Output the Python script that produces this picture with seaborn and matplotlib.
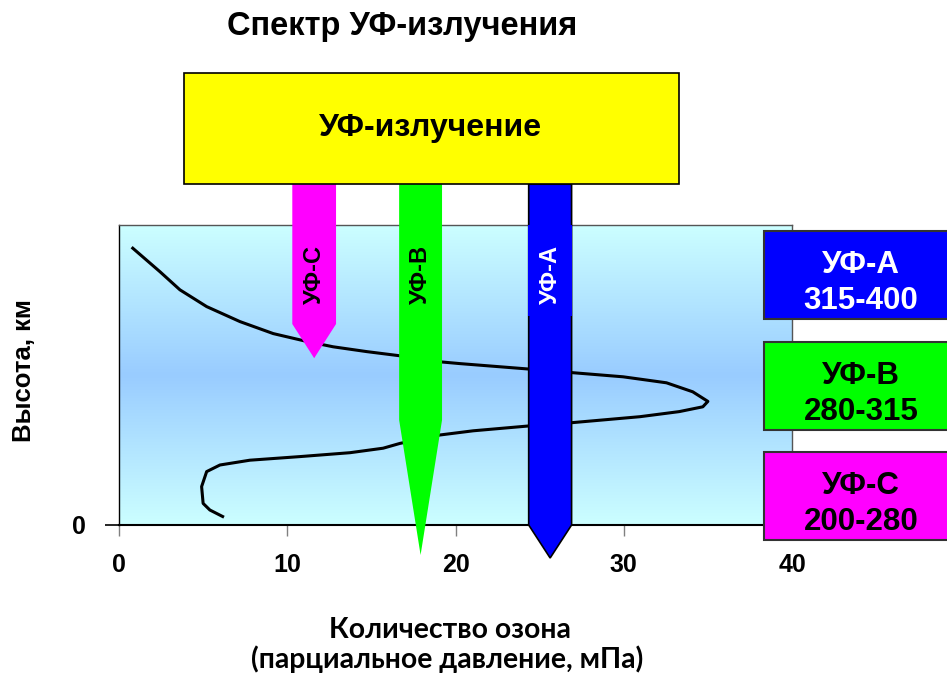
import numpy as np
import pandas as pd
import matplotlib
matplotlib.use("Agg")
import matplotlib.pyplot as plt
from matplotlib.colors import LinearSegmentedColormap
from matplotlib.patches import Polygon, Rectangle
import seaborn as sns

# Ozone partial pressure profile (mPa) against altitude (km), traced from top to bottom
ozone_mpa = [0.75, 2.44, 3.62, 5.21, 7.19, 9.17, 11.15, 12.73, 14.72, 16.7, 19.07,
             20.26, 24.32, 26.9, 29.96, 32.54, 34.1, 35.0, 34.7, 33.3, 30.96, 26.9,
             24.32, 21.05, 19.07, 16.7, 15.7, 13.73, 10.75, 7.78, 6.0, 5.21, 4.91,
             5.0, 5.4, 6.24]
altitude_km = [46.3, 42.2, 39.2, 36.4, 33.9, 31.9, 30.6, 29.7, 28.9, 28.2, 27.2,
               26.9, 26.0, 25.4, 24.7, 23.7, 22.2, 20.6, 19.7, 18.9, 18.05, 17.05,
               16.5, 15.7, 15.0, 13.6, 12.8, 12.05, 11.4, 10.8, 10.0, 8.9, 6.4,
               3.6, 2.5, 1.3]

x_ticks = [0, 10, 20, 30, 40]

# UV bands: label, wavelength range (nm), colour
band_names = ["УФ-А", "УФ-В", "УФ-С"]
band_ranges = ["315-400", "280-315", "200-280"]
band_colors = ["#0000FF", "#00FF00", "#FF00FF"]
band_text = ["white", "black", "black"]

sns.set_theme(style="white")
plt.rcParams["font.family"] = ["Liberation Sans", "DejaVu Sans"]
plt.rcParams["text.color"] = "black"
plt.rcParams["xtick.color"] = "black"
plt.rcParams["ytick.color"] = "black"

W, H = 947, 675
fig = plt.figure(figsize=(W / 100, H / 100), dpi=100)
ax = fig.add_axes([119 / W, 150 / H, 673 / W, 300 / H])


def fx(px):
    return px / W


def fy(py):
    return 1 - py / H


XMAX, YMAX = 40, 50
ax.set_xlim(0, XMAX)
ax.set_ylim(0, YMAX)

# vertical gradient background: pale cyan at the edges, sky blue in the middle
cmap = LinearSegmentedColormap.from_list("sky", ["#CCFFFF", "#99CCFF", "#CCFFFF"])
grad = np.linspace(0, 1, 256).reshape(-1, 1)
ax.imshow(grad, cmap=cmap, extent=[0, XMAX, 0, YMAX], aspect="auto",
          origin="lower", zorder=0)

df = pd.DataFrame({"ozone": ozone_mpa, "alt": altitude_km})
sns.lineplot(data=df, x="ozone", y="alt", sort=False, estimator=None,
             color="black", lw=2.2, ax=ax, zorder=3,
             solid_joinstyle="round", solid_capstyle="butt")

ax.set_xticks(x_ticks)
ax.set_xticklabels([str(t) for t in x_ticks], fontsize=18, fontweight="bold")
ax.set_yticks([0])
ax.set_yticklabels(["0"], fontsize=18, fontweight="bold")
ax.tick_params(axis="x", direction="out", length=8, width=1, color="#808080",
               pad=12, bottom=True)
ax.tick_params(axis="y", direction="out", length=10, width=1.2, color="black",
               pad=14, left=True)
ax.set_xlabel("")
ax.set_ylabel("")
for side, sp in ax.spines.items():
    sp.set_visible(True)
    sp.set_linewidth(1.0)
    sp.set_color("#555555")
ax.spines["bottom"].set_color("black")
ax.spines["bottom"].set_linewidth(1.5)
ax.spines["left"].set_color("black")

# downward-pointing arrows for the three bands (C, B, A)
top = 56.8
arrow_specs = [
    # (band index, left, right, shaft bottom, tip, edge)
    (2, 10.3, 12.9, 33.5, 27.8, "none"),
    (1, 16.65, 19.2, 17.5, -5.0, "none"),
    (0, 24.35, 26.9, 0.0, -5.5, "black"),
]
for idx, x0, x1, yb, ytip, ec in arrow_specs:
    xm = (x0 + x1) / 2
    poly = Polygon([(x0, top), (x1, top), (x1, yb), (xm, ytip), (x0, yb)],
                   closed=True, facecolor=band_colors[idx], edgecolor=ec,
                   lw=1.2, clip_on=False, zorder=5)
    ax.add_patch(poly)
    if ec != "none":
        # plain label panel laid over the outlined shaft
        ax.add_patch(Rectangle((x0 - 0.05, 34.8), x1 - x0 + 0.1, YMAX - 34.8,
                               facecolor=band_colors[idx], edgecolor="none",
                               zorder=5.5, clip_on=False))
    ax.text(xm, 41.75, band_names[idx], rotation=90, ha="center", va="center",
            fontsize=17, fontweight="bold", color=band_text[idx], zorder=6,
            clip_on=False)

# yellow banner
fig.patches.append(Rectangle((fx(184), fy(184)), 495 / W, 111 / H,
                             transform=fig.transFigure, facecolor="#FFFF00",
                             edgecolor="black", lw=1.2, zorder=4))
fig.text(fx(431), fy(136), "УФ-излучение", ha="center", va="baseline",
         fontsize=23, fontweight="bold", zorder=6)

# legend boxes on the right
box_tops = [231, 342, 452]
for i, yt in enumerate(box_tops):
    fig.patches.append(Rectangle((fx(764), fy(yt + 88)), 190 / W, 88 / H,
                                 transform=fig.transFigure,
                                 facecolor=band_colors[i], edgecolor="#333333",
                                 lw=1.5, zorder=7))
    fig.text(fx(861), fy(yt + 42), band_names[i], ha="center", va="baseline",
             fontsize=22.5, fontweight="bold", color=band_text[i], zorder=8)
    fig.text(fx(861), fy(yt + 78), band_ranges[i], ha="center", va="baseline",
             fontsize=22.5, fontweight="bold", color=band_text[i], zorder=8)

fig.text(fx(402), fy(35), "Спектр УФ-излучения", ha="center", va="baseline",
         fontsize=23.5, fontweight="bold",
         family=["Liberation Sans Narrow", "Liberation Sans", "DejaVu Sans"])

fig.text(fx(24), fy(371), "Высота, км", rotation=90, ha="center",
         va="center", fontsize=18.5, fontweight="bold")
fig.text(fx(450), fy(638), "Количество озона", ha="center", va="baseline",
         fontsize=20.4, fontweight="bold", family=["Lato", "DejaVu Sans"])
fig.text(fx(447), fy(668), "(парциальное давление, мПа)", ha="center",
         va="baseline", fontsize=20.4, fontweight="bold",
         family=["Lato", "DejaVu Sans"])

fig.savefig("out.png", dpi=100, facecolor="white")
